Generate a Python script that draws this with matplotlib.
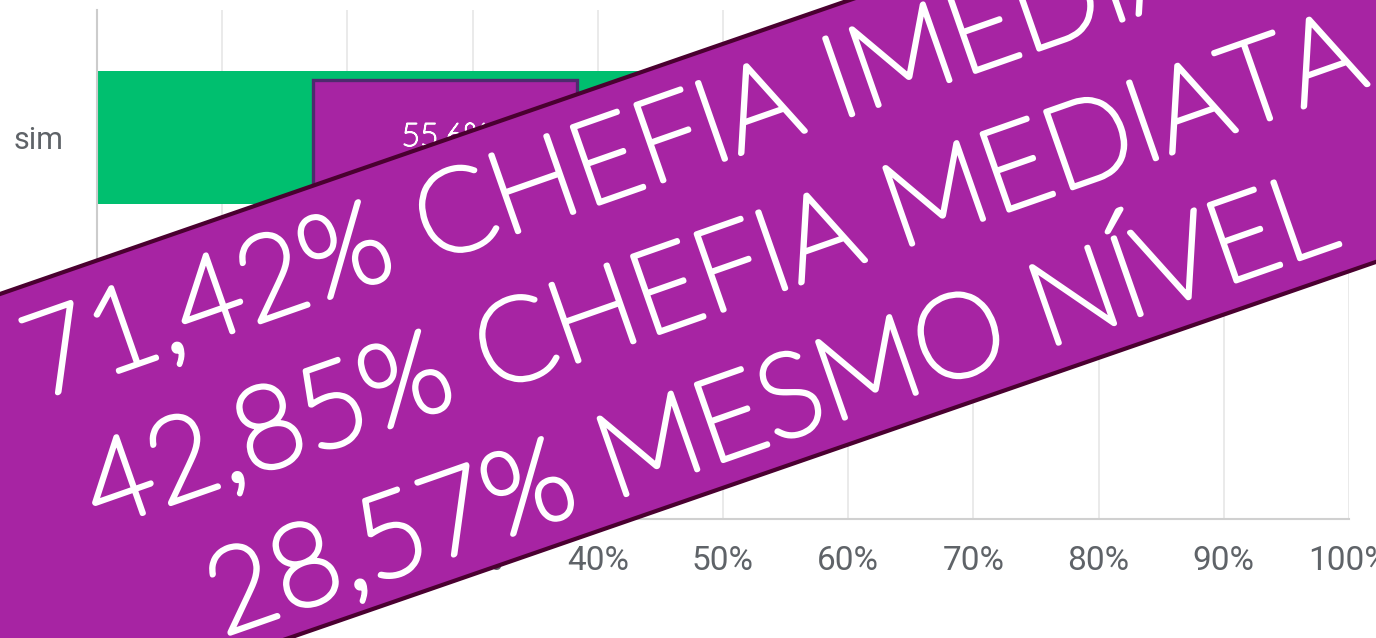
import numpy as np
import matplotlib
matplotlib.use("Agg")
import matplotlib.pyplot as plt
from matplotlib.patches import Rectangle, Polygon
import matplotlib.patheffects as pe

# ---- data ----
categories = ["sim", "não"]
values = [0.556, 0.444]
value_labels = ["55,6%", "44,4%"]
xticks = [0.0, 0.1, 0.2, 0.3, 0.4, 0.5, 0.6, 0.7, 0.8, 0.9, 1.0]
xtick_labels = ["0%", "10%", "20%", "30%", "40%", "50%", "60%", "70%", "80%", "90%", "100%"]
banner_lines = ["71,42% CHEFIA IMEDIATA", "42,85% CHEFIA MEDIATA", "28,57% MESMO NÍVEL"]

# ---- style ----
W, H = 1376, 638
GREEN = "#00BF6F"
PURPLE = "#A724A3"
BOX_EDGE = "#4E2A6E"
BANNER_EDGE = "#4A0030"
GRID = "#E6E6E6"
TICK = "#5F6368"

fig = plt.figure(figsize=(W / 100, H / 100), dpi=100)
ax = fig.add_axes([97 / W, 1 - 519 / H, (1349 - 97) / W, (519 - 10) / H])

ypos = np.arange(len(categories))
bar_h = 0.523
ax.barh(ypos, values, height=bar_h, color=GREEN, zorder=2)

thin = [pe.withStroke(linewidth=1.2, foreground="white")]
for i, (v, lab) in enumerate(zip(values, value_labels)):
    bw, bh = 0.211, 0.452
    ax.add_patch(Rectangle((v / 2 - bw / 2, i - bh / 2), bw, bh, facecolor=PURPLE,
                           edgecolor=BOX_EDGE, lw=2.4, zorder=3))
    ax.text(v / 2, i, lab, ha="center", va="center", color="white",
            fontsize=23, family="Lato", fontweight="light", zorder=4,
            path_effects=thin)

ax.set_xlim(0, 1)
ax.set_ylim(len(categories) - 0.5, -0.5)
ax.set_xticks(xticks)
ax.set_xticklabels(xtick_labels, fontsize=24, color=TICK, family="Roboto")
ax.set_yticks(ypos)
ax.set_yticklabels(categories, fontsize=22, color=TICK, family="Roboto")
ax.tick_params(axis="x", length=0, pad=19)
ax.tick_params(axis="y", length=0, pad=24)
ax.grid(axis="x", color=GRID, lw=1.2, zorder=0)
ax.set_axisbelow(True)
for s in ["top", "right"]:
    ax.spines[s].set_visible(False)
ax.spines["left"].set_color("#CCCCCC")
ax.spines["left"].set_linewidth(1.5)
ax.spines["bottom"].set_color("#D0D0D0")
ax.spines["bottom"].set_linewidth(1.5)

# ---- diagonal banner (overlay) ----
slope = 0.346
top0, bot0 = 294, 738
xs = [-60, 1460]
pts_px = [(xs[0], top0 - slope * xs[0]), (xs[1], top0 - slope * xs[1]),
          (xs[1], bot0 - slope * xs[1]), (xs[0], bot0 - slope * xs[0])]
pts = [(x / W, 1 - y / H) for x, y in pts_px]
fig.add_artist(Polygon(pts, closed=True, facecolor=PURPLE, edgecolor=BANNER_EDGE,
                       lw=3.0, transform=fig.transFigure, zorder=10))

ang = 19.3
th = np.deg2rad(ang)
v = np.array([-np.sin(th), -np.cos(th)])
base3 = np.array([782.0, 440.0])
spacing = 142.0

renderer = fig.canvas.get_renderer()
tmp = fig.text(0, 0, banner_lines[2], fontsize=80, family="Lato", fontweight="light")
wpx = tmp.get_window_extent(renderer).width
tmp.remove()
fs = 80 * 1185 / wpx

bold = [pe.withStroke(linewidth=3.6, foreground="white")]
for k, line in enumerate(banner_lines):
    p = base3 + (2 - k) * spacing * v
    fig.text(p[0] / W, 1 - p[1] / H, line, rotation=ang, rotation_mode="anchor",
             ha="center", va="baseline", color="white", fontsize=fs,
             family="Lato", fontweight="light", zorder=11, path_effects=bold)

fig.savefig("out.png", dpi=100)
